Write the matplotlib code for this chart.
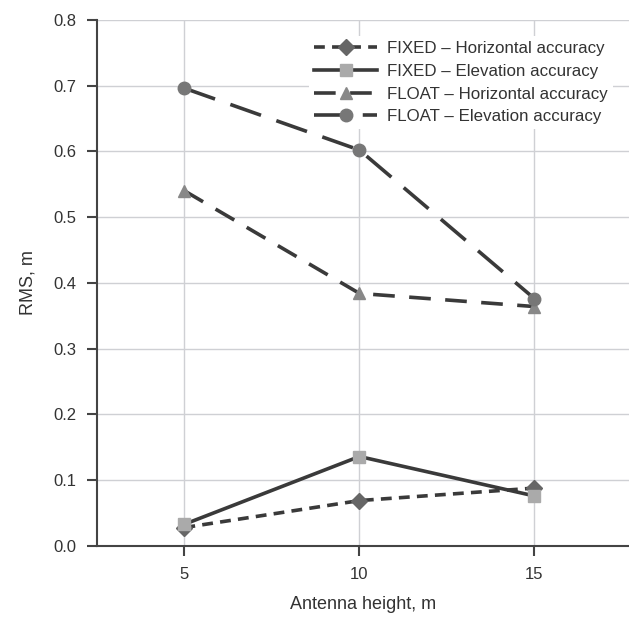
import matplotlib.pyplot as plt

plt.rcParams['font.family'] = ['Liberation Sans', 'DejaVu Sans']

heights = [5, 10, 15]
fixed_horiz = [0.028, 0.069, 0.088]
fixed_elev = [0.033, 0.136, 0.076]
float_horiz = [0.540, 0.384, 0.364]
float_elev = [0.696, 0.602, 0.376]

labels = ['FIXED – Horizontal accuracy', 'FIXED – Elevation accuracy',
          'FLOAT – Horizontal accuracy', 'FLOAT – Elevation accuracy']

line_col = '#3a3a3a'
txt_col = '#333333'

fig = plt.figure(figsize=(6.29, 6.19), dpi=100)
ax = fig.add_axes([0.154, 0.118, 0.846, 0.85])

ax.plot(heights, fixed_horiz, color=line_col, lw=2.6, dashes=(3, 2),
        marker='D', ms=8, mfc='#666666', mec='#666666', label=labels[0], zorder=3)
ax.plot(heights, fixed_elev, color=line_col, lw=2.6, ls='-',
        marker='s', ms=8, mfc='#aaaaaa', mec='#aaaaaa', label=labels[1], zorder=3)
ax.plot(heights, float_horiz, color=line_col, lw=2.6, dashes=(6, 4),
        marker='^', ms=8, mfc='#888888', mec='#888888', label=labels[2], zorder=3)
ax.plot(heights, float_elev, color=line_col, lw=2.6, dashes=(9, 4.5),
        marker='o', ms=9, mfc='#777777', mec='#777777', label=labels[3], zorder=3)

ax.set_xlim(2.5, 17.7)
ax.set_ylim(0, 0.8)
ax.set_xticks(heights)
ax.set_yticks([i / 10 for i in range(9)])
ax.set_yticklabels(['%.1f' % (i / 10) for i in range(9)])

ax.grid(True, color='#cfd0d4', lw=1)
ax.set_axisbelow(True)
for s in ['top', 'right']:
    ax.spines[s].set_visible(False)
for s in ['left', 'bottom']:
    ax.spines[s].set_color('#444444')
    ax.spines[s].set_linewidth(1.5)
ax.tick_params(direction='out', length=7, width=1.5, color='#444444',
               labelsize=12, labelcolor=txt_col, pad=8)

ax.set_xlabel('Antenna height, m', fontsize=13, color=txt_col, labelpad=10)
ax.set_ylabel('RMS, m', fontsize=13, color=txt_col, labelpad=12)

leg = ax.legend(loc='upper right', bbox_to_anchor=(0.986, 0.985), frameon=True,
                fontsize=12.2, handlelength=3.7, labelspacing=0.45, borderpad=0.3,
                handletextpad=0.6, labelcolor=txt_col)
leg.get_frame().set_edgecolor('none')
leg.get_frame().set_facecolor('white')
leg.get_frame().set_alpha(1)

fig.savefig('out.png', dpi=100)
